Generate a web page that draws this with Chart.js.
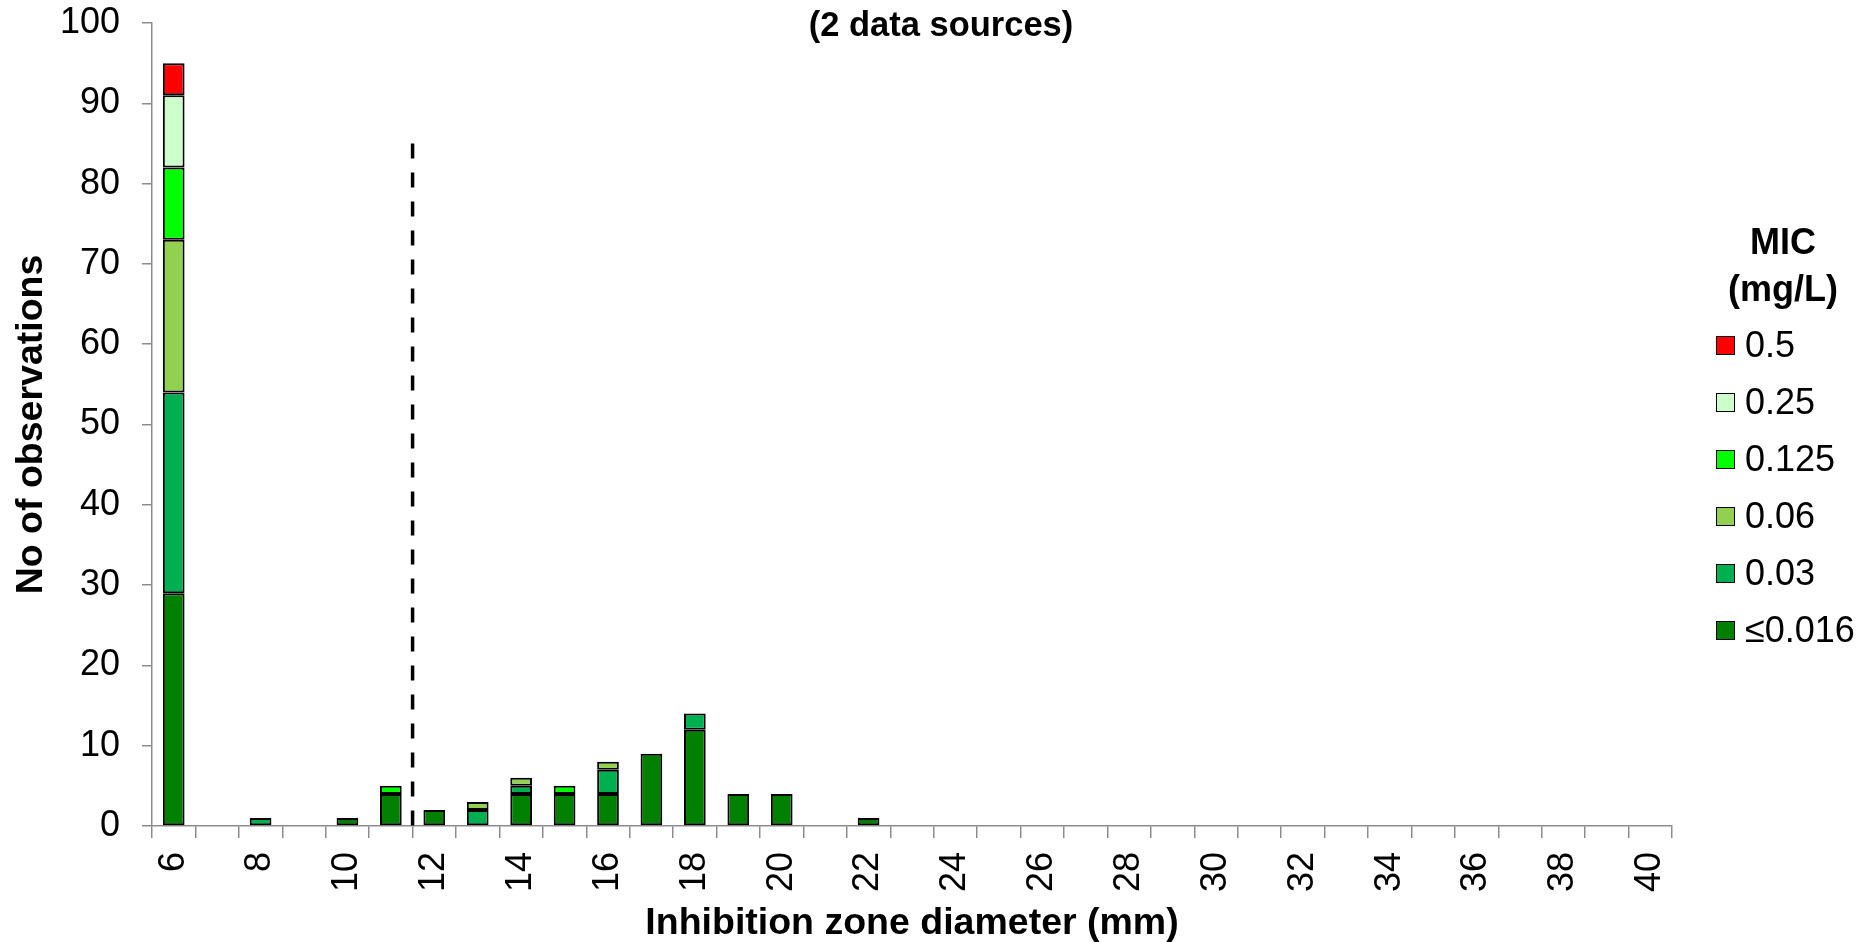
<!DOCTYPE html>
<html>
<head>
<meta charset="utf-8">
<script src="https://cdn.jsdelivr.net/npm/chart.js@4.4.1/dist/chart.umd.min.js"></script>
<style>
  html, body { margin: 0; padding: 0; background: #ffffff; }
  #wrap { position: relative; width: 1870px; height: 942px; }
  #c { position: absolute; left: 0; top: 0; }
  #title { position: absolute; left: 0; width: 1882px; top: 7px; text-align: center;
           font: bold 34.5px 'Liberation Sans', Arial, sans-serif; line-height: 34px; color: #000; }
  #legend { position: absolute; left: 1700px; top: 218px; width: 170px;
            font-family: 'Liberation Sans', Arial, sans-serif; color: #000; }
  #legend .lt { text-align: center; font-weight: bold; font-size: 36px; line-height: 47px; width: 166px; }
  #legend .item { position: absolute; left: 16px; height: 40px; display: flex; align-items: center; font-size: 36px; }
  #legend .box { width: 17px; height: 17px; border: 1.5px solid #000; margin-right: 10px; box-sizing: content-box; }
</style>
</head>
<body>
<div id="wrap">
  <canvas id="c" width="1870" height="942"></canvas>
  <div id="title">(2 data sources)</div>
  <div id="legend"></div>
</div>
<script>
// ---- Data ----
const categories = ['6','7','8','9','10','11','12','13','14','15','16','17','18','19','20','21','22','23',
                    '24','25','26','27','28','29','30','31','32','33','34','35','36','37','38','39','40'];
const xTickLabels = ['6','8','10','12','14','16','18','20','22','24','26','28','30','32','34','36','38','40'];
const yTickValues = [0,10,20,30,40,50,60,70,80,90,100];

const seriesNames = ['≤0.016','0.03','0.06','0.125','0.25','0.5'];
const seriesColors = ['#008000','#00B050','#92D050','#00FF00','#CCFFCC','#FF0000'];

const micLe0016 = [29,0,0,0,1,4,2,0,4,4,4,9,12,4,4,0,1,0,0,0,0,0,0,0,0,0,0,0,0,0,0,0,0,0,0];
const mic003    = [25,0,1,0,0,0,0,2,1,0,3,0,2,0,0,0,0,0,0,0,0,0,0,0,0,0,0,0,0,0,0,0,0,0,0];
const mic006    = [19,0,0,0,0,0,0,1,1,0,1,0,0,0,0,0,0,0,0,0,0,0,0,0,0,0,0,0,0,0,0,0,0,0,0];
const mic0125   = [9,0,0,0,0,1,0,0,0,1,0,0,0,0,0,0,0,0,0,0,0,0,0,0,0,0,0,0,0,0,0,0,0,0,0];
const mic025    = [9,0,0,0,0,0,0,0,0,0,0,0,0,0,0,0,0,0,0,0,0,0,0,0,0,0,0,0,0,0,0,0,0,0,0];
const mic05     = [4,0,0,0,0,0,0,0,0,0,0,0,0,0,0,0,0,0,0,0,0,0,0,0,0,0,0,0,0,0,0,0,0,0,0];

const breakpointLeft = '11';   // dashed breakpoint between 11 and 12 mm
const breakpointRight = '12';
const breakpointTop = 85;

const seriesData = [micLe0016, mic003, mic006, mic0125, mic025, mic05];

const FONT = "'Liberation Sans', Arial, sans-serif";
const AXIS = '#8c8c8c';

const datasets = seriesNames.map((name, i) => ({
  label: name,
  data: seriesData[i].map(v => v === 0 ? null : v),
  backgroundColor: seriesColors[i],
  borderColor: '#000000',
  borderWidth: 2,
  borderSkipped: false,
  barPercentage: 0.5,
  categoryPercentage: 1.0
}));

const breakpointPlugin = {
  id: 'breakpoint',
  afterDatasetsDraw(chart) {
    const xs = chart.scales.x, ys = chart.scales.y;
    const x = (xs.getPixelForValue(categories.indexOf(breakpointLeft)) +
               xs.getPixelForValue(categories.indexOf(breakpointRight))) / 2;
    const ctx = chart.ctx;
    ctx.save();
    ctx.strokeStyle = '#000';
    ctx.lineWidth = 3.5;
    ctx.setLineDash([15, 14]);
    ctx.beginPath();
    ctx.moveTo(x, ys.getPixelForValue(breakpointTop));
    ctx.lineTo(x, ys.getPixelForValue(0));
    ctx.stroke();
    ctx.restore();
  }
};

new Chart(document.getElementById('c'), {
  type: 'bar',
  data: { labels: categories, datasets },
  options: {
    responsive: false,
    animation: false,
    layout: { padding: { top: 23, right: 198, bottom: 0, left: 0 } },
    plugins: { legend: { display: false }, tooltip: { enabled: false }, title: { display: false } },
    scales: {
      x: {
        stacked: true,
        grid: { display: true, drawOnChartArea: false, drawTicks: true, tickLength: 12, color: AXIS, lineWidth: 1.5, offset: true },
        border: { display: true, color: AXIS, width: 1.5 },
        ticks: {
          autoSkip: false, minRotation: 90, maxRotation: 90, padding: 14,
          color: '#000', font: { family: FONT, size: 36 },
          callback: function(value) { const l = categories[value]; return xTickLabels.includes(l) ? l : ''; }
        },
        title: { display: true, text: 'Inhibition zone diameter (mm)', color: '#000',
                 font: { family: FONT, size: 37.5, weight: 'bold', lineHeight: 1.0 }, padding: { top: 0, bottom: 0 } },
        afterFit(scale) { scale.height = 116; scale.paddingLeft = 0; scale.paddingRight = 0; }
      },
      y: {
        stacked: true, min: 0, max: 100,
        afterBuildTicks(scale) { scale.ticks = yTickValues.map(v => ({ value: v })); },
        grid: { display: true, drawOnChartArea: false, drawTicks: true, tickLength: 10, color: AXIS, lineWidth: 1.5 },
        border: { display: true, color: AXIS, width: 1.5 },
        ticks: { padding: 22, color: '#000', font: { family: FONT, size: 36 } },
        title: { display: true, text: 'No of observations', color: '#000',
                 font: { family: FONT, size: 37.5, weight: 'bold', lineHeight: 1.2 }, padding: { top: 9, bottom: 0 } },
        afterFit(scale) { scale.width = 152; scale.paddingTop = 0; scale.paddingBottom = 0; }
      }
    }
  },
  plugins: [breakpointPlugin]
});

// ---- HTML legend (top item = last series) ----
const legend = document.getElementById('legend');
legend.innerHTML = '<div class="lt">MIC<br>(mg/L)</div>';
const legendCenters0 = 345, legendStep = 57;
seriesNames.slice().reverse().forEach((name, k) => {
  const i = seriesNames.length - 1 - k;
  const it = document.createElement('div');
  it.className = 'item';
  it.style.top = (legendCenters0 + k * legendStep - 218 - 20) + 'px';
  it.innerHTML = '<span class="box" style="background:' + seriesColors[i] + '"></span><span>' + name + '</span>';
  legend.appendChild(it);
});
</script>
</body>
</html>
